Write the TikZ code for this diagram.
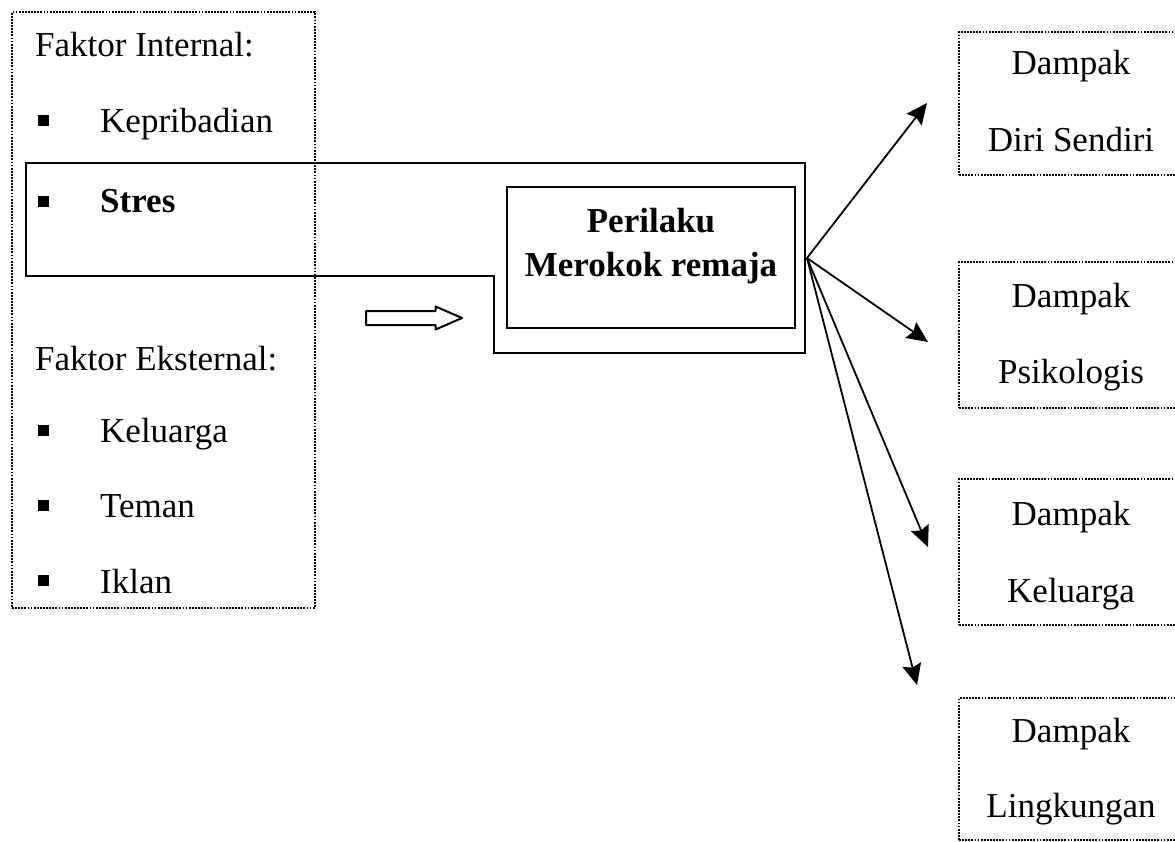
\documentclass[tikz,border=0pt]{standalone}
\usepackage{fontspec}
\setmainfont{Liberation Serif}
\usetikzlibrary{arrows.meta,shapes.arrows}
\begin{document}
\begin{tikzpicture}[x=1pt,y=-1pt,
  txt/.style={font=\fontsize{35}{42}\selectfont, inner sep=0pt, anchor=base west},
  ctxt/.style={font=\fontsize{35}{42}\selectfont, inner sep=0pt, anchor=base},
  btxt/.style={font=\fontsize{35}{42}\selectfont\bfseries, inner sep=0pt, anchor=base},
  bul/.style={fill=black, minimum size=11pt, inner sep=0pt},
  dotbox/.style={draw, line width=2.2pt, dash pattern=on 1.8pt off 1.3pt, inner sep=0pt},
  solidbox/.style={draw, line width=1.8pt, inner sep=0pt},
  conn/.style={line width=1.8pt, -{Stealth[length=21pt,width=19pt,inset=3pt]}},
]
\useasboundingbox (0,0) rectangle (1175,842);
\clip (0,0) rectangle (1175,842);

% left factor box
\node[dotbox, minimum width=303pt, minimum height=596pt] (left) at (163.5,310) {};
\node[txt] (fi) at (35,57) {Faktor Internal:};
\node[bul] (b1) at (43,121) {};
\node[txt] (kep) at (100,133) {Kepribadian};
\node[bul] (b2) at (43,202) {};
\node[txt, font=\fontsize{35}{42}\selectfont\bfseries] (str) at (100,213) {Stres};
\node[txt] (fe) at (35,370) {Faktor Eksternal:};
\node[bul] (b3) at (43,430) {};
\node[txt] (kel) at (100,442) {Keluarga};
\node[bul] (b4) at (43,505) {};
\node[txt] (tem) at (100,517) {Teman};
\node[bul] (b5) at (43,580) {};
\node[txt] (ikl) at (100,593) {Iklan};

% stress outline
\draw[line width=1.8pt] (26,163) -- (805,163) -- (805,353) -- (494,353) -- (494,276) -- (26,276) -- cycle;

% central box
\node[solidbox, minimum width=288pt, minimum height=141pt] (per) at (651,257.5) {};
\node[btxt] (p1) at (651,233) {Perilaku};
\node[btxt] (p2) at (651,277) {Merokok remaja};

% hollow arrow
\node[single arrow, draw, line width=2pt, line join=round, minimum height=96pt, minimum width=21pt,
      inner sep=6pt, single arrow head extend=4.5pt, single arrow tip angle=47] (ha) at (406,318) {};

% right boxes
\node[dotbox, minimum width=231pt, minimum height=143pt] (r1) at (1074.5,103.5) {};
\node[ctxt] (r1a) at (1071,75) {Dampak};
\node[ctxt] (r1b) at (1071,152) {Diri Sendiri};
\node[dotbox, minimum width=231pt, minimum height=146pt] (r2) at (1074.5,335) {};
\node[ctxt] (r2a) at (1071,308) {Dampak};
\node[ctxt] (r2b) at (1071,383) {Psikologis};
\node[dotbox, minimum width=231pt, minimum height=146pt] (r3) at (1074.5,552) {};
\node[ctxt] (r3a) at (1071,525) {Dampak};
\node[ctxt] (r3b) at (1071,602) {Keluarga};
\node[dotbox, minimum width=231pt, minimum height=142pt] (r4) at (1074.5,769) {};
\node[ctxt] (r4a) at (1071,742) {Dampak};
\node[ctxt] (r4b) at (1071,817) {Lingkungan};

% arrows
\coordinate (src) at (807,258);
\coordinate (t1) at (927,103);
\coordinate (t2) at (928,342);
\coordinate (t3) at (928,547);
\coordinate (t4) at (917,685);
\draw[conn] (src) -- (t1);
\draw[conn] (src) -- (t2);
\draw[conn] (src) -- (t3);
\draw[conn] (src) -- (t4);
\end{tikzpicture}
\end{document}
